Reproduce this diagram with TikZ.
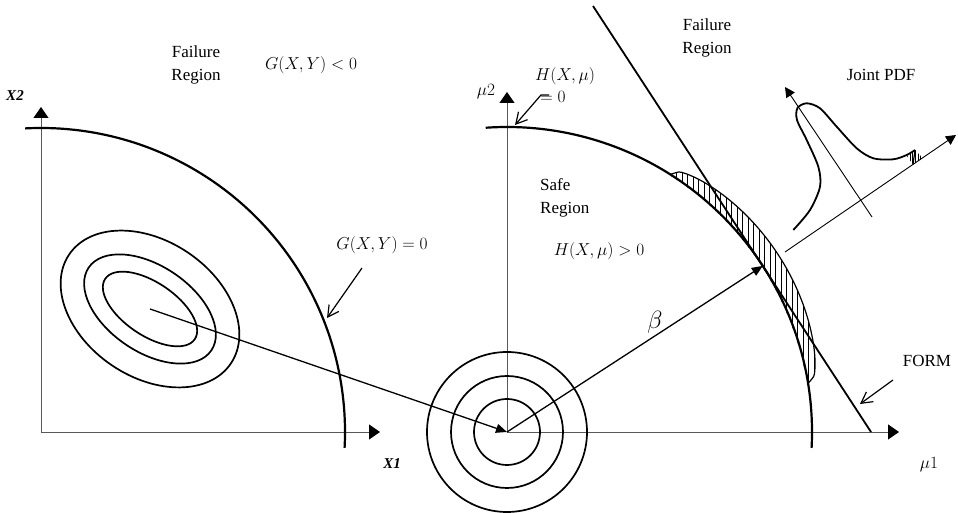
\documentclass[tikz,border=0pt]{standalone}
\usepackage{fontspec}
\setmainfont{Liberation Serif}
\usetikzlibrary{arrows.meta}
\begin{document}
\begin{tikzpicture}[x=1pt,y=1pt,
  declare function={crr(\t)=304+20*pow(abs(sin((\t-9.3)*180/48.2))+0.001,0.35);},
  axis/.style={line width=0.9pt, black!65, -{Triangle[length=11pt,width=15pt,color=black]}},
  limit/.style={line width=2.2pt},
  contour/.style={line width=1.7pt},
  vec/.style={line width=1.3pt,-{Triangle[length=11pt,width=9pt]}},
  callout/.style={line width=1.2pt,-{Straight Barb[length=11pt,width=12pt,line width=1.2pt]}},
  pdfaxis/.style={line width=0.9pt,-{Triangle[length=10pt,width=10pt]}},
  hatch/.style={line width=0.75pt},
  lbl/.style={font=\fontsize{17}{23}\selectfont, inner sep=0pt, align=center},
  axlbl/.style={font=\fontsize{15}{17}\selectfont\bfseries\itshape, inner sep=0pt},
]
\useasboundingbox (0,0) rectangle (958,513);

% ---------- left panel ----------
\coordinate (O1) at (41,81);
\coordinate (X1tip) at (380,81);
\coordinate (X2tip) at (41,406);
\coordinate (E) at (150,204);
\draw[axis] (O1) -- (X1tip);
\draw[axis] (O1) -- (X2tip);
\draw[limit] (O1) ++(93:304) arc[start angle=93,end angle=-3,radius=304];
\draw[contour, rotate around={-34:(E)}] (E) ellipse[x radius=54, y radius=26.5];
\draw[contour, rotate around={-34:(E)}] (E) ellipse[x radius=74, y radius=43];
\draw[contour, rotate around={-34:(E)}] (E) ellipse[x radius=97.5, y radius=68];

% ---------- right panel ----------
\coordinate (O2) at (507,81);
\coordinate (M1tip) at (899,81);
\coordinate (M2tip) at (507,421);
\draw[axis] (O2) -- (M1tip);
\draw[axis] (O2) -- (M2tip);
\draw[contour] (O2) circle[radius=33] circle[radius=56] circle[radius=80];

% hatched crescent
\begin{scope}
  \clip (O2) ++(57.5:304) arc[start angle=57.5,end angle=9.3,radius=304]
    -- plot[domain=9.3:57.5,samples=50] ({507+crr(\x)*cos(\x)},{81+crr(\x)*sin(\x)}) -- cycle;
  \foreach \x in {660,665.5,...,835} \draw[hatch] (\x,120) -- (\x,360);
\end{scope}
\draw[line width=1.2pt] plot[domain=9.3:57.5,samples=50,smooth] ({507+crr(\x)*cos(\x)},{81+crr(\x)*sin(\x)});

\draw[limit] (O2) ++(94:305) arc[start angle=94,end angle=-3,radius=305];

% transfer arrow and beta
\draw[vec] (E) -- (O2);
\path (O2) ++(33:305) coordinate (B);
\draw[vec] (O2) -- (B);

% FORM tangent line
\coordinate (F1) at (593,507);
\coordinate (F2) at (871,81);
\draw[line width=1.8pt] (F1) -- (F2);

% joint PDF
\coordinate (P1s) at (785,261);
\coordinate (P1e) at (956,378);
\coordinate (P2s) at (872,296);
\coordinate (P2e) at (785,426);
\draw[pdfaxis] (P1s) -- (P1e);
\draw[pdfaxis] (P2s) -- (P2e);
\draw[line width=1.8pt] plot[smooth] coordinates {(793.3,283) (810,303) (820,326.3) (818.3,346.3) (806.7,373) (797,393) (797.5,405) (806.7,409.7) (820,404.7) (836.7,386.3) (856.7,364.7) (873.3,354.7) (893.3,353.7) (906.7,358) (915,363)};
\begin{scope}
  \clip (907,357) -- (915,363) -- (922,356) -- (922,354) -- (913,348.5) -- cycle;
  \foreach \x in {905,907.6,...,925} \draw[line width=0.7pt] (\x,340) -- (\x,370);
\end{scope}
\draw[line width=1.2pt] (915,363) -- (913,348.5);

% ---------- labels ----------
\node[lbl] (fr1) at (196,448) {Failure\\Region};
\node[lbl] (glt) at (311,448) {$G(X,Y) < 0$};
\node[axlbl] (x2) at (15,417) {X2};
\node[axlbl] (x1) at (392,49) {X1};
\node[lbl] (gz) at (382,268) {$G(X,Y) = 0$};
\node[lbl] (m2) at (486,421) {$\mu2$};
\node[lbl] (h) at (565,437) {$H(X,\mu)$};
\node[lbl] (heq) at (553,416) {$= 0$};
\node[lbl] (fr2) at (707,475) {Failure\\Region};
\node[lbl] (jp) at (881,438) {Joint PDF};
\node[lbl, anchor=west, align=left] (safe) at (540,315) {Safe\\Region};
\node[lbl] (hgt) at (599,262) {$H(X,\mu) > 0$};
\node[lbl, font=\fontsize{24}{26}\selectfont] (beta) at (655,191) {$\beta$};
\node[lbl] (form) at (927,152) {FORM};
\node[lbl] (m1) at (929,48) {$\mu1$};

% callouts
\coordinate (gzs) at (362,245);
\coordinate (gzt) at (327,195);
\draw[callout] (gzs) -- (gzt);
\coordinate (hs0) at (549,418);
\coordinate (hs) at (541,418);
\coordinate (ht) at (515,388);
\draw[callout] (hs0) -- (hs) -- (ht);
\coordinate (fs) at (893,133);
\coordinate (ft) at (860,109);
\draw[callout] (fs) -- (ft);
\end{tikzpicture}
\end{document}
